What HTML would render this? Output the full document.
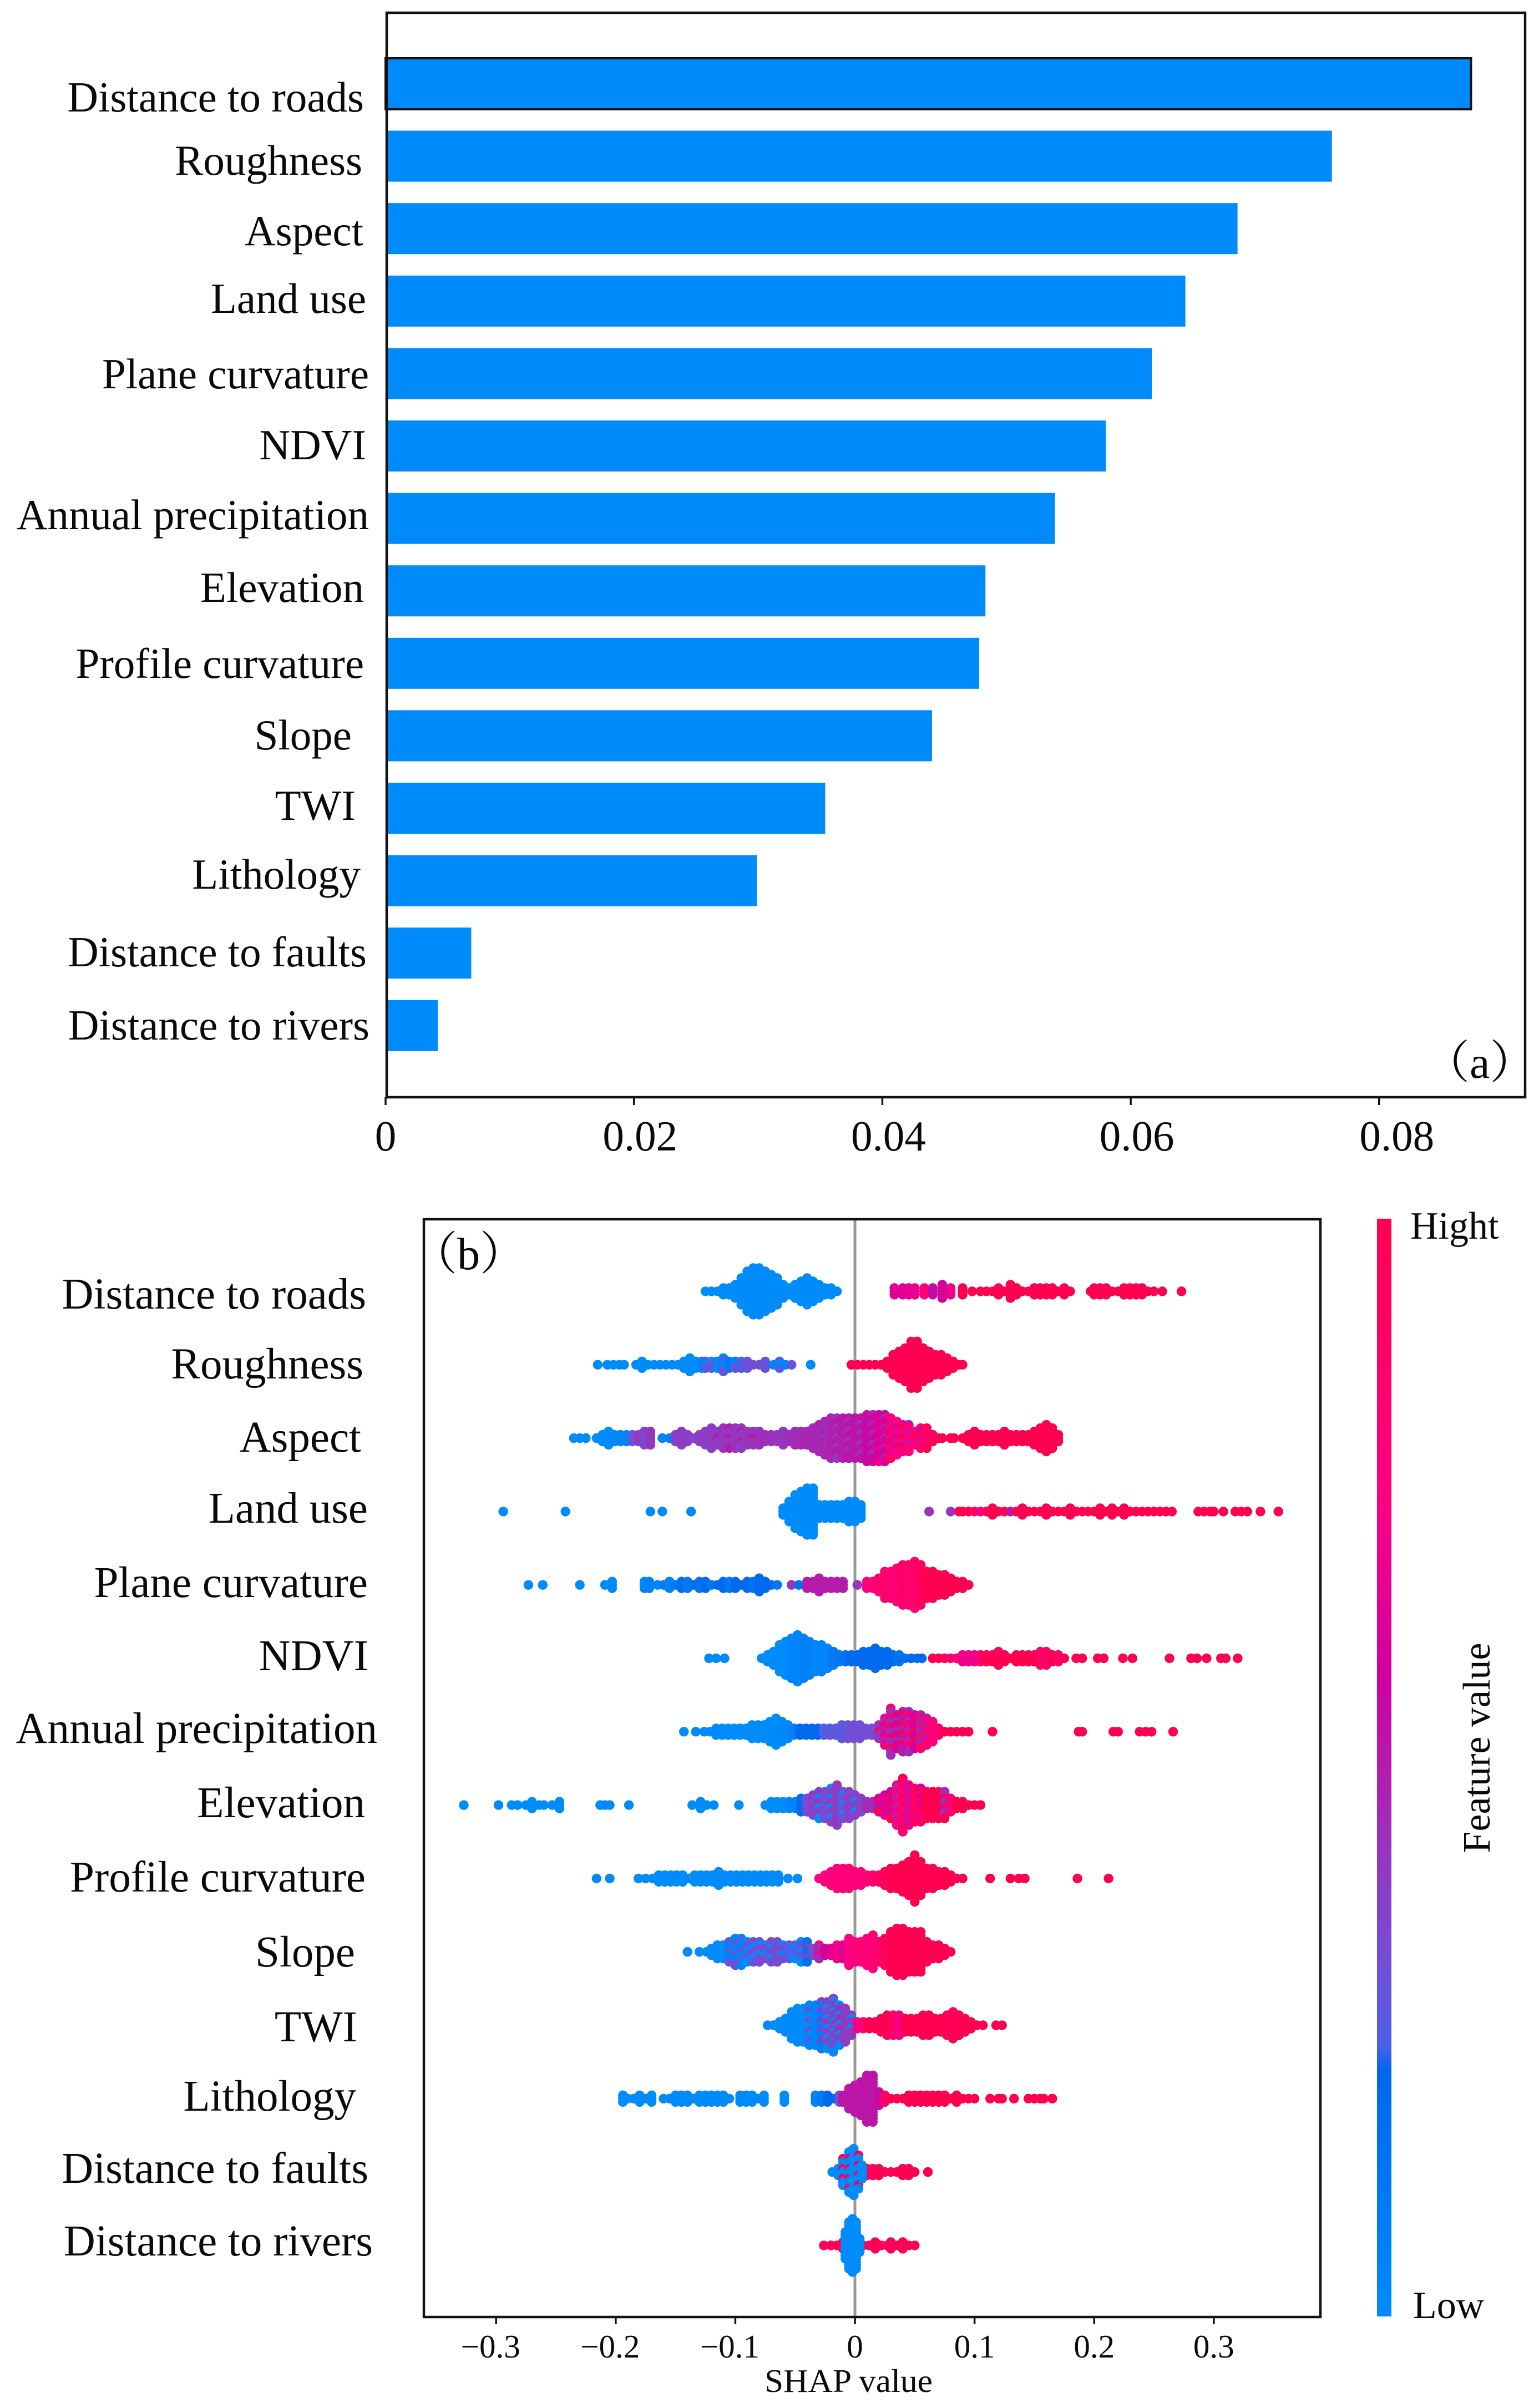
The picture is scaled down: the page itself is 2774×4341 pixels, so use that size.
<!DOCTYPE html>
<html>
<head>
<meta charset="utf-8">
<title>Feature importance and SHAP summary</title>
<style>
html,body{margin:0;padding:0;background:#fff}
svg{display:block}
text{font-family:"Liberation Serif","Noto Serif CJK SC",serif;fill:#0a0a0a}
</style>
</head>
<body>
<svg id="chart" xmlns="http://www.w3.org/2000/svg" width="2774" height="4341" viewBox="0 0 2774 4341">
<defs>
<linearGradient id="cbar" x1="0" y1="1" x2="0" y2="0">
<stop offset="0" stop-color="#008bfb"/>
<stop offset=".225" stop-color="#0066ee"/>
<stop offset=".246" stop-color="#4a60e8"/>
<stop offset=".313" stop-color="#7050d8"/>
<stop offset=".415" stop-color="#9438c0"/>
<stop offset=".51" stop-color="#b818a8"/>
<stop offset=".584" stop-color="#d000a0"/>
<stop offset=".753" stop-color="#ff0080"/>
<stop offset="1" stop-color="#ff0051"/>
</linearGradient>
</defs>
<rect x="0" y="0" width="2774" height="4341" fill="#fff"/>

<g id="bars"></g>
<rect x="697" y="23" width="2052" height="1955" fill="none" stroke="#111" stroke-width="4.5"/>
<g id="barTicks" font-size="77"></g>
<g font-size="77" text-anchor="end">
<text x="656" y="201">Distance to roads</text>
<text x="653" y="315">Roughness</text>
<text x="655" y="442">Aspect</text>
<text x="660" y="564">Land use</text>
<text x="665" y="700">Plane curvature</text>
<text x="660" y="828">NDVI</text>
<text x="665" y="954">Annual precipitation</text>
<text x="656" y="1085">Elevation</text>
<text x="656" y="1222">Profile curvature</text>
<text x="634" y="1351">Slope</text>
<text x="641" y="1478">TWI</text>
<text x="650" y="1602">Lithology</text>
<text x="661" y="1742">Distance to faults</text>
<text x="666" y="1874">Distance to rivers</text>
</g>
<text x="2567" y="1943" font-size="82">（a）</text>

<rect x="764" y="2198" width="1616" height="1979" fill="#fff"/>
<line x1="1541" y1="2198" x2="1541" y2="4177" stroke="#999" stroke-width="5"/>
<g id="swarm"></g>
<rect x="764" y="2198" width="1616" height="1979" fill="none" stroke="#111" stroke-width="4.5"/>
<g id="shapTicks" font-size="59"></g>
<text x="1378" y="4312" font-size="59" textLength="303" lengthAdjust="spacingAndGlyphs">SHAP value</text>
<g font-size="79" text-anchor="end">
<text x="660" y="2359">Distance to roads</text>
<text x="655" y="2485">Roughness</text>
<text x="651" y="2617">Aspect</text>
<text x="663" y="2745">Land use</text>
<text x="663" y="2879">Plane curvature</text>
<text x="664" y="3011">NDVI</text>
<text x="680" y="3142">Annual precipitation</text>
<text x="658" y="3276">Elevation</text>
<text x="659" y="3410">Profile curvature</text>
<text x="640" y="3545">Slope</text>
<text x="644" y="3680">TWI</text>
<text x="642" y="3805">Lithology</text>
<text x="664" y="3935">Distance to faults</text>
<text x="672" y="4066">Distance to rivers</text>
</g>
<text x="742" y="2288" font-size="82">（b）</text>

<rect x="2482" y="2197" width="26" height="1979" fill="url(#cbar)"/>
<text x="2542" y="2233" font-size="70">Hight</text>
<text x="2547" y="4179" font-size="70">Low</text>
<text transform="translate(2685,3151) rotate(-90)" text-anchor="middle" font-size="70">Feature value</text>
</svg>

<script>
const barFeatures = ["Distance to roads","Roughness","Aspect","Land use","Plane curvature","NDVI","Annual precipitation","Elevation","Profile curvature","Slope","TWI","Lithology","Distance to faults","Distance to rivers"];
const barValues = [0.0874,0.0762,0.0686,0.0644,0.0617,0.0580,0.0539,0.0483,0.0478,0.0440,0.0354,0.0299,0.0069,0.0042];
const barTickValues = [0,0.02,0.04,0.06,0.08];
const barTickLabels = ["0","0.02","0.04","0.06","0.08"];
const shapTickValues = [-0.3,-0.2,-0.1,0,0.1,0.2,0.3];
const shapTickLabels = ["\u22120.3","\u22120.2","\u22120.1","0","0.1","0.2","0.3"];

// Each entry: [SHAP value, dots stacked at that value, feature value 0..1, optional feature value of every third dot]
const roadsStacks = [[-.125,1,0],[-.12,1,0],[-.115,1,0],[-.11,3,0],[-.105,3,0],[-.1,5,0],[-.095,9,0],[-.09,13,0],[-.085,15,0],[-.08,15,0],[-.075,13,0],[-.07,11,0],[-.065,9,0],[-.06,5,0],[-.055,3,0],[-.05,5,0],[-.045,7,0],[-.04,9,0],[-.035,7,0],[-.03,5,0],[-.025,3,0],[-.02,3,0],[-.015,1,0],
[.033,3,.65],[.04,3,.65],[.045,3,.65],[.05,3,.68],[.058,3,.8],[.065,3,.55],[.073,5,.6],[.08,3,.7],[.09,3,1],[.098,1,1],[.105,1,1],[.11,1,1],[.115,1,1],[.12,3,1],[.125,1,1],[.13,5,1],[.135,3,1],[.14,1,1],[.145,1,1],[.15,3,1],[.155,3,1],[.16,3,1],[.165,3,1],[.17,1,1],[.175,3,1],[.18,1,1],[.197,1,1],[.2,3,1],[.205,3,1],[.21,3,1],[.215,1,1],[.22,1,1],[.225,3,1],[.23,3,1],[.235,3,1],[.24,3,1],[.245,1,1],[.25,1,1],[.257,1,1],[.273,1,1]];

const roughnessStacks = [[-.215,1,0],[-.207,1,0],[-.202,1,0],[-.197,1,0],[-.193,1,0],[-.183,1,0],[-.178,3,0],[-.173,1,0],[-.168,1,0],[-.163,1,0],[-.158,1,0],[-.153,1,0],[-.148,1,0],[-.143,3,0],[-.138,5,0],[-.133,3,0],[-.128,3,.03],[-.125,3,.25,0],[-.12,3,.3,0],[-.115,3,.03],[-.11,5,.03,.3],[-.105,3,.1],[-.1,3,.06,.3],[-.095,3,.25],[-.09,3,.3],[-.085,1,.32],[-.08,1,.32],[-.075,3,.3],[-.068,1,.03],[-.063,3,.25,0],[-.058,1,.03],[-.053,1,.3],[-.037,1,0],
[-.003,1,1],[.002,1,1],[.007,1,1],[.012,1,1],[.017,1,1],[.022,1,1],[.027,3,1],[.032,7,1],[.037,9,1],[.042,11,.98],[.047,15,.98],[.052,15,1],[.057,11,1],[.062,9,1],[.067,7,1],[.072,7,1],[.077,5,1],[.082,3,1],[.087,1,1],[.09,1,1]];

const aspectStacks = [[-.235,1,0],[-.23,1,0],[-.225,1,0],[-.216,1,0],[-.211,3,0],[-.206,5,0],[-.201,3,0],[-.196,3,.03],[-.191,3,.03],[-.186,3,.3],[-.181,3,.4],[-.176,5,.35],[-.171,5,.42],[-.161,1,.03],[-.155,1,.05],[-.15,3,.38],[-.145,5,.4],[-.14,3,.4],[-.135,1,.35],[-.13,3,.4],[-.125,5,.38],[-.12,7,.4],[-.115,5,.4,.5],[-.11,7,.42],[-.105,7,.42,.5],[-.1,7,.42],[-.095,7,.4,.5],[-.09,5,.42],[-.085,5,.43,.5],[-.08,5,.44],[-.075,3,.44],[-.07,3,.44],[-.065,3,.43],[-.06,5,.42],[-.055,3,.44],[-.05,5,.45],[-.045,5,.46],[-.04,5,.47],[-.035,7,.46],[-.03,9,.47],[-.025,11,.48,.42],[-.02,13,.48],[-.015,13,.5,.42],[-.01,13,.5],[-.005,13,.52,.43],[0,13,.52],[.005,13,.52,.42],[.01,15,.55],[.015,15,.55,.45],[.02,15,.58,.7],[.025,15,.62,.48],[.03,13,.68,.9],[.035,11,.75,.55],[.04,9,.72,1],[.045,9,.8,.5],[.05,5,.8,1],[.055,7,.85,.55],[.06,7,.85,1],[.065,3,.95],[.07,1,1],[.073,1,1],[.08,1,1],[.083,1,1],[.09,1,1],[.095,3,1],[.1,5,1],[.105,3,1],[.11,3,1],[.115,3,1],[.12,3,1],[.125,5,1],[.13,3,1],[.135,3,1],[.14,3,1],[.145,3,1],[.15,5,1],[.155,7,1],[.16,9,1],[.165,7,1],[.17,3,1]];

const landUseStacks = [[-.294,1,0],[-.242,1,0],[-.171,1,0],[-.161,1,0],[-.137,1,0],[-.06,3,0],[-.055,7,0],[-.05,11,0],[-.045,13,0],[-.04,15,0],[-.035,15,0],[-.03,5,0],[-.025,5,0],[-.02,5,0],[-.015,5,0],[-.01,5,0],[-.005,7,0],[0,7,0],[.005,5,0],
[.062,1,.42],[.08,1,.42],[.087,1,.95],[.09,1,1],[.095,1,1],[.1,1,.95],[.105,1,.7],[.11,1,1],[.115,3,1],[.12,1,1],[.125,1,1],[.13,1,.5],[.135,1,1],[.14,3,1],[.145,1,1],[.15,1,1],[.155,1,1],[.16,3,1],[.165,1,1],[.17,1,1],[.175,1,1],[.18,3,1],[.185,1,1],[.19,1,.95],[.195,1,1],[.2,1,1],[.205,3,1],[.21,1,1],[.215,3,1],[.22,1,1],[.225,3,1],[.23,1,1],[.235,1,1],[.24,1,1],[.245,1,1],[.25,1,1],[.255,1,1],[.26,1,1],[.265,1,1],[.287,1,1],[.292,1,1],[.297,1,1],[.3,1,1],[.308,1,1],[.318,1,1],[.323,1,1],[.328,1,1],[.339,1,1],[.354,1,1]];

const planeCurvatureStacks = [[-.273,1,0],[-.261,1,0],[-.23,1,0],[-.209,1,0],[-.203,3,0],[-.176,3,.02],[-.172,3,.05],[-.165,1,.05],[-.16,1,.1],[-.155,3,.05],[-.15,1,.12],[-.145,3,.18],[-.14,3,.12],[-.135,1,.18],[-.13,3,.15],[-.125,3,.2],[-.12,1,.12],[-.115,1,.2],[-.11,3,.2],[-.105,3,.12],[-.1,3,.2],[-.095,1,.2],[-.09,3,.2],[-.085,3,.15],[-.08,5,.2],[-.075,3,.2],[-.07,1,.2],[-.065,1,.12],[-.053,1,.42],[-.047,1,.15],[-.04,3,.5],[-.035,3,.5],[-.03,5,.5],[-.025,3,.5],[-.02,3,.5],[-.015,3,.5],[-.01,3,.5],[.002,1,.42],
[.01,3,.8],[.015,3,.8],[.02,5,.85],[.025,9,.85],[.03,9,.85],[.035,11,.8],[.04,13,.85,1],[.045,13,.85],[.05,15,.9,.78],[.055,13,.95],[.06,9,.98],[.065,9,1],[.07,7,1],[.075,7,1],[.08,5,1],[.085,3,1],[.09,3,1],[.095,1,1]];

const ndviStacks = [[-.122,1,0],[-.116,1,0],[-.109,1,0],[-.078,1,0],[-.073,3,0],[-.068,5,0],[-.063,9,0],[-.058,11,0],[-.053,13,.04],[-.048,15,.04],[-.043,13,.06],[-.038,11,.06],[-.033,9,.04],[-.028,9,.04],[-.023,7,.04],[-.018,5,.1],[-.013,3,.12],[-.008,3,.15],[-.003,3,.2],[.002,3,.2],[.007,5,.2],[.012,5,.2],[.017,7,.2],[.022,5,.2],[.027,5,.2],[.032,3,.2],[.037,3,.15],[.042,1,.15],[.047,1,.2],[.052,1,.2],[.056,1,.2],
[.065,1,1],[.07,1,1],[.075,1,.95],[.08,1,.85],[.085,1,.85],[.09,3,.7],[.095,3,.7],[.1,3,.7],[.105,3,.85],[.11,3,1],[.115,3,1],[.12,5,.98],[.125,3,1],[.13,1,1],[.135,3,1],[.14,3,1],[.145,3,1],[.15,3,1],[.155,5,.9],[.16,5,.9],[.165,3,1],[.17,3,.9],[.175,1,1],[.185,1,1],[.19,1,1],[.203,1,1],[.208,1,1],[.224,1,1],[.232,1,1],[.263,1,1],[.281,1,1],[.286,1,1],[.294,1,1],[.306,1,1],[.31,1,1],[.32,1,1]];

const precipitationStacks = [[-.143,1,0],[-.133,1,0],[-.126,1,0],[-.121,1,0],[-.116,3,0],[-.111,3,0],[-.106,3,0],[-.101,3,0],[-.096,3,0],[-.091,3,0],[-.086,5,0],[-.081,5,0],[-.076,5,0],[-.071,7,0],[-.066,9,0],[-.061,7,.02],[-.056,5,.03],[-.051,3,.06],[-.046,3,.2],[-.041,3,.2],[-.036,3,.2],[-.031,3,.22],[-.026,3,.25],[-.021,3,.28],[-.016,3,.28],[-.011,5,.28],[-.006,5,.3],[-.001,5,.33],[.004,5,.32],[.009,3,.32],[.014,3,.32],
[.02,5,.43,.9],[.025,9,.7,.45],[.03,15,.45,1],[.035,11,.65,.45],[.04,13,.5,1],[.045,13,.72,.45],[.05,11,.6,1],[.055,11,.48,.9],[.06,9,.8,.5],[.065,7,.8],[.07,3,.85],[.075,1,1],[.08,1,1],[.085,1,.95],[.09,1,1],[.095,1,1],[.115,1,1],[.187,1,1],[.19,1,1],[.216,1,1],[.22,1,1],[.238,1,1],[.243,1,1],[.248,1,1],[.266,1,1]];

const elevationStacks = [[-.327,1,0],[-.298,1,0],[-.287,1,0],[-.282,1,0],[-.275,1,0],[-.27,3,0],[-.264,1,0],[-.26,1,0],[-.253,1,0],[-.247,3,0],[-.213,1,0],[-.209,1,0],[-.205,1,0],[-.189,1,0],[-.136,1,0],[-.129,3,0],[-.124,1,0],[-.118,1,0],[-.097,1,0],[-.075,1,0],[-.07,3,0],[-.065,3,0],[-.06,3,0],[-.055,3,.02],[-.05,3,.05],[-.045,5,.18],[-.04,5,.33],[-.035,7,.38],[-.03,9,.4,0],[-.025,9,.33],[-.02,11,.38,0],[-.015,13,.4],[-.01,9,.33,0],[-.005,9,.38],[0,7,.38,0],[.005,5,.38],[.01,3,.45],[.015,3,.45],[.02,5,.55,1],[.025,7,.65],[.03,9,.6,1],[.035,13,.72,.45],[.04,17,.8,1],[.045,13,.68,.5],[.05,11,.9],[.055,11,.92,.6],[.06,9,1],[.065,9,1],[.07,9,1],[.075,9,.45,1],[.08,5,.8],[.085,3,1],[.09,3,1],[.095,1,1],[.1,1,1],[.105,1,1]];

const profileCurvatureStacks = [[-.216,1,0],[-.205,1,0],[-.181,1,0],[-.175,1,0],[-.169,1,0],[-.164,3,0],[-.159,3,0],[-.154,3,0],[-.149,3,0],[-.144,3,0],[-.139,1,0],[-.134,3,0],[-.129,3,0],[-.124,3,0],[-.119,3,0],[-.114,5,0],[-.109,3,0],[-.104,3,0],[-.099,3,0],[-.094,3,0],[-.089,3,0],[-.084,3,0],[-.079,3,0],[-.074,3,0],[-.069,3,0],[-.064,3,0],[-.056,1,0],[-.048,1,0],
[-.03,1,.75],[-.025,3,.75],[-.02,5,.78],[-.015,7,.78],[-.01,7,.78],[-.005,7,.78],[0,5,.78],[.005,5,.78],[.01,3,.8],[.015,3,.85],[.02,3,.9],[.025,5,.95],[.03,7,.98],[.035,7,1],[.04,9,1],[.045,11,1],[.05,15,1],[.055,11,1],[.06,7,1],[.065,7,1],[.07,5,1],[.075,5,1],[.08,3,1],[.085,1,1],[.09,1,1],[.113,1,1],[.13,1,1],[.137,1,1],[.142,1,1],[.186,1,1],[.212,1,1]];

const slopeStacks = [[-.14,1,0],[-.13,1,0],[-.124,1,0],[-.12,3,0],[-.115,5,0],[-.11,5,0],[-.105,7,.06,.3],[-.1,9,.04,.33],[-.095,9,.04,.3],[-.09,7,.25,0],[-.085,7,.3,0],[-.08,7,.32,0],[-.075,5,.33,0],[-.07,7,.33,0],[-.065,7,.33],[-.06,5,.33,0],[-.055,5,.25],[-.05,5,.25,0],[-.045,7,.3,0],[-.04,7,.15,.4],[-.035,3,.33],[-.03,5,.45,.8],[-.025,3,.6],[-.02,3,.65],[-.015,5,.7],[-.01,5,.65],[-.005,9,.75],[0,7,.78],[.005,7,.8],[.01,9,.8],[.015,11,.8],[.02,7,.85],[.025,9,.92],[.03,13,1],[.035,15,1],[.04,15,1],[.045,13,1],[.05,13,1],[.055,13,1],[.06,7,1],[.065,5,1],[.07,5,1],[.075,3,1],[.08,1,1]];

const twiStacks = [[-.073,1,0],[-.068,1,0],[-.063,3,0],[-.058,5,0],[-.053,9,0],[-.048,11,0],[-.043,11,0],[-.038,13,.02,.38],[-.033,13,.04],[-.028,15,.08,.42],[-.023,15,.4,0],[-.018,17,.4,.02],[-.013,13,.42,0],[-.008,11,.4],[-.003,7,.42,0],[.002,3,.72],[.007,3,.85],[.012,3,1],[.017,3,1],[.022,5,.98],[.027,7,1],[.032,7,.9],[.037,7,.72],[.042,5,1],[.047,5,1],[.052,5,1],[.057,7,.98],[.062,7,1],[.067,5,1],[.072,5,1],[.077,7,.98],[.082,9,.95],[.087,7,1],[.092,5,1],[.097,3,1],[.102,1,1],[.107,1,1],[.118,1,1],[.123,1,1]];

const lithologyStacks = [[-.194,3,0],[-.19,1,0],[-.185,1,0],[-.18,3,0],[-.175,1,0],[-.17,3,0],[-.16,1,0],[-.155,1,0],[-.15,3,0],[-.145,3,0],[-.14,3,0],[-.135,1,0],[-.13,3,0],[-.125,3,0],[-.12,3,0],[-.115,3,0],[-.11,3,0],[-.105,1,0],[-.096,3,0],[-.091,3,0],[-.086,3,0],[-.081,1,0],[-.076,3,0],[-.059,3,0],[-.033,3,.05],[-.028,3,.1],[-.023,3,.2],[-.018,1,.2],[-.013,3,.3],
[-.01,3,.52],[-.005,7,.52],[0,9,.52],[.005,11,.52],[.01,15,.52],[.015,15,.52],[.02,5,.55],[.025,3,.9],[.03,1,1],[.035,1,1],[.04,1,1],[.045,3,1],[.05,3,1],[.055,3,1],[.06,3,1],[.065,3,1],[.07,3,1],[.075,3,1],[.08,1,1],[.085,3,1],[.09,1,1],[.095,1,1],[.1,1,1],[.113,1,1],[.12,1,1],[.123,1,1],[.133,1,1],[.145,1,1],[.15,1,1],[.155,1,1],[.158,1,1],[.165,1,1]];

const faultsStacks = [[.01,3,.9],[.015,3,.95],[.02,3,1],[.025,1,.95],[.03,1,.95],[.035,1,1],[.04,3,1],[.045,3,1],[.05,1,1],[.061,1,1],[-.019,1,0],[-.014,3,0],[-.01,9,0,1],[-.005,13,0,1],[-.001,15,0],[.003,11,0,1],[.006,5,0]];

const riversStacks = [[-.026,1,.95],[-.02,1,.95],[-.015,1,.95],[-.01,3,.95],[.007,1,1],[.012,1,.95],[.017,3,1],[.022,1,.95],[.027,1,.95],[.03,3,.95],[.035,1,1],[.04,3,1],[.045,1,1],[.05,1,1],[-.008,9,0],[-.005,15,0],[-.002,17,0],[.001,15,0],[.004,5,0]];

const swarmNames = ["roads","roughness","aspect","land-use","plane-curvature","ndvi","precipitation","elevation","profile-curvature","slope","twi","lithology","faults","rivers"];
const swarmRows = [roadsStacks,roughnessStacks,aspectStacks,landUseStacks,planeCurvatureStacks,ndviStacks,precipitationStacks,elevationStacks,profileCurvatureStacks,slopeStacks,twiStacks,lithologyStacks,faultsStacks,riversStacks];

const NS = "http://www.w3.org/2000/svg";
function barX(v){ return 695 + v * 22385; }
function barY(i){ return 105 + i * 130.6; }
function shapX(v){ return 1541 + v * 2156; }
function rowY(i){ return 2328 + i * 132.3; }

const cmapPos = [0,.225,.246,.313,.415,.51,.584,.753,1];
const cmapRGB = [[0,139,251],[0,102,238],[74,96,232],[112,80,216],[148,56,192],[184,24,168],[208,0,160],[255,0,128],[255,0,81]];
function colorOf(f){
  f = Math.max(0, Math.min(1, f));
  for (let i = 1; i < cmapPos.length; i++) {
    if (f <= cmapPos[i]) {
      const t = (f - cmapPos[i-1]) / (cmapPos[i] - cmapPos[i-1]);
      const a = cmapRGB[i-1], b = cmapRGB[i];
      return "rgb(" + Math.round(a[0]+(b[0]-a[0])*t) + "," + Math.round(a[1]+(b[1]-a[1])*t) + "," + Math.round(a[2]+(b[2]-a[2])*t) + ")";
    }
  }
  return "rgb(255,0,81)";
}

const barsGroup = document.getElementById("bars");
barValues.forEach(function(v, i){
  const r = document.createElementNS(NS, "rect");
  
  
  r.setAttribute("x", barX(0));
  r.setAttribute("y", barY(i));
  r.setAttribute("width", barX(v) - barX(0));
  r.setAttribute("height", 92);
  r.setAttribute("fill", "#008bfb");
  if (i === 0) {
    r.setAttribute("stroke", "#111");
    r.setAttribute("stroke-width", "4");
  }
  barsGroup.appendChild(r);
});

const barTickGroup = document.getElementById("barTicks");
barTickValues.forEach(function(v, i){
  const l = document.createElementNS(NS, "line");
  
  
  l.setAttribute("x1", barX(v));
  l.setAttribute("x2", barX(v));
  l.setAttribute("y1", 1978);
  l.setAttribute("y2", 1992);
  l.setAttribute("stroke", "#111");
  l.setAttribute("stroke-width", "3.5");
  barTickGroup.appendChild(l);
  const t = document.createElementNS(NS, "text");
  
  
  t.setAttribute("x", barX(v) + (i === 0 ? 0 : i === 4 ? 32 : 11));
  t.setAttribute("y", 2074);
  t.setAttribute("text-anchor", "middle");
  t.textContent = barTickLabels[i];
  barTickGroup.appendChild(t);
});

const shapTickGroup = document.getElementById("shapTicks");
shapTickValues.forEach(function(v, i){
  const l = document.createElementNS(NS, "line");
  
  
  l.setAttribute("x1", shapX(v));
  l.setAttribute("x2", shapX(v));
  l.setAttribute("y1", 4177);
  l.setAttribute("y2", 4190);
  l.setAttribute("stroke", "#111");
  l.setAttribute("stroke-width", "3.5");
  shapTickGroup.appendChild(l);
  const t = document.createElementNS(NS, "text");
  
  
  t.setAttribute("x", shapX(v) + (v < 0 ? -10 : 0));
  t.setAttribute("y", 4250);
  t.setAttribute("text-anchor", "middle");
  t.textContent = shapTickLabels[i];
  shapTickGroup.appendChild(t);
});

const swarmGroup = document.getElementById("swarm");
swarmRows.forEach(function(stacks, row){
  const g = document.createElementNS(NS, "g");
  
  
  stacks.forEach(function(s, idx){
    const half = (s[1] - 1) / 2;
    for (let k = -half; k <= half; k++) {
      const useAlt = s.length > 3 && (k + half + idx) % 3 === 0;
      const c = document.createElementNS(NS, "circle");
      
      
      c.setAttribute("cx", shapX(s[0]));
      c.setAttribute("cy", rowY(row) + k * 6);
      c.setAttribute("r", 8.7);
      c.setAttribute("fill", colorOf(useAlt ? s[3] : s[2]));
      g.appendChild(c);
    }
  });
  swarmGroup.appendChild(g);
});
</script>
</body>
</html>
